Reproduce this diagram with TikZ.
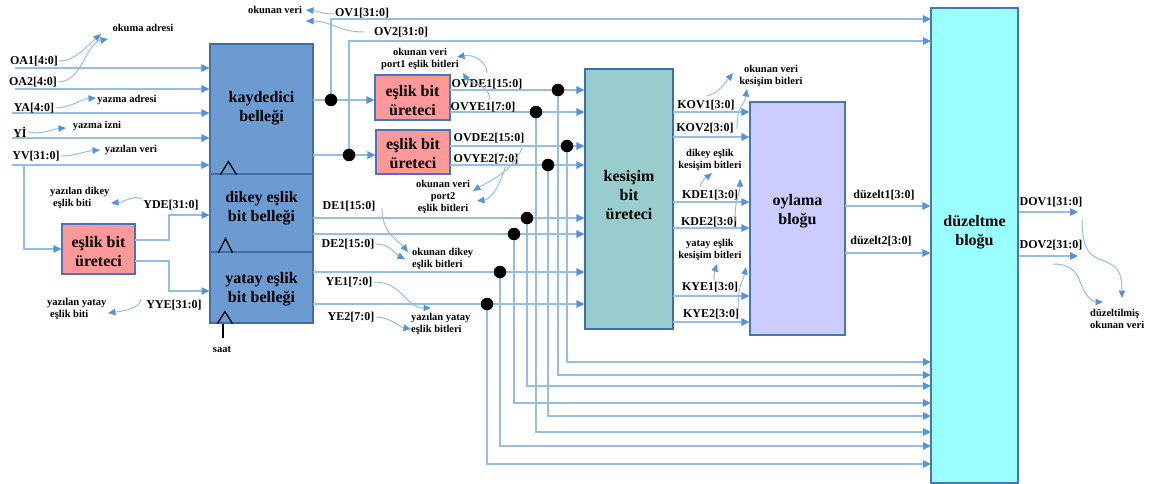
\documentclass[tikz,border=0pt]{standalone}
\usepackage{fontspec}
\setmainfont{Liberation Serif}
\usetikzlibrary{arrows.meta}
\definecolor{wirecol}{RGB}{148,189,232}
\definecolor{tipcol}{RGB}{86,148,214}
\definecolor{regfill}{RGB}{108,155,210}
\definecolor{regedge}{RGB}{62,110,168}
\definecolor{parfill}{RGB}{255,153,153}
\definecolor{boxedge}{RGB}{70,116,192}
\definecolor{intfill}{RGB}{153,204,204}
\definecolor{votfill}{RGB}{204,204,255}
\definecolor{corfill}{RGB}{153,255,255}

\begin{document}
\begin{tikzpicture}[x=1pt,y=-1pt,
  blk/.style={rectangle, inner sep=0pt, line width=1.1pt},
  regbox/.style={blk, draw=regedge, fill=regfill},
  parbox/.style={blk, draw=boxedge, fill=parfill},
  intbox/.style={blk, draw=regedge, fill=intfill},
  votbox/.style={blk, draw=boxedge, fill=votfill},
  corbox/.style={blk, draw=boxedge, fill=corfill},
  boxtxt/.style={align=center, font=\fontsize{16}{19}\selectfont\bfseries, inner sep=0pt},
  bus/.style={font=\fontsize{12}{14}\selectfont\bfseries, inner sep=1pt},
  tag/.style={font=\fontsize{10.5}{12}\selectfont\bfseries, inner sep=0pt},
  wire/.style={draw=wirecol, line width=1.3pt},
  feed/.style={wire, -{Triangle[length=8pt,width=7.5pt,color=tipcol]}},
  ann/.style={draw=wirecol, line width=1pt, -{Triangle[length=7.5pt,width=6.5pt,color=tipcol]}},
  jdot/.style={circle, fill=black, inner sep=0pt, minimum size=12.5pt},
  clockmark/.style={draw=black, line width=1.3pt}
]
\useasboundingbox (0,0) rectangle (1170,484);

% ---------------- blocks ----------------
\node[regbox, minimum width=103pt, minimum height=130pt] (kb) at (261.5,109) {};
\node[regbox, minimum width=103pt, minimum height=78pt]  (dk) at (261.5,213) {};
\node[regbox, minimum width=103pt, minimum height=71pt]  (yt) at (261.5,287.5) {};
\node[parbox, minimum width=73pt, minimum height=50pt]   (pg0) at (98.5,249) {};
\node[parbox, minimum width=75pt, minimum height=45pt]   (pg1) at (412.5,97.5) {};
\node[parbox, minimum width=74pt, minimum height=44pt]   (pg2) at (413,152) {};
\node[intbox, minimum width=88pt, minimum height=260pt]  (ks) at (629,199) {};
\node[votbox, minimum width=95pt, minimum height=233pt]  (ov) at (797.5,218.5) {};
\node[corbox, minimum width=87pt, minimum height=475pt]  (dz) at (974.5,245.5) {};

\node[boxtxt] (kbt)  at (261.5,108) {kaydedici\\belleği};
\node[boxtxt] (dkt)  at (261.5,208) {dikey eşlik\\bit belleği};
\node[boxtxt] (ytt)  at (261.5,289.5) {yatay eşlik\\bit belleği};
\node[boxtxt] (pg0t) at (98.5,252) {eşlik bit\\üreteci};
\node[boxtxt] (pg1t) at (412.5,101) {eşlik bit\\üreteci};
\node[boxtxt] (pg2t) at (413,154) {eşlik bit\\üreteci};
\node[boxtxt] (kst)  at (629,195) {kesişim\\bit\\üreteci};
\node[boxtxt] (ovt)  at (797.5,211) {oylama\\bloğu};
\node[boxtxt] (dzt)  at (974.5,232) {düzeltme\\bloğu};

% clock marks
\draw[clockmark] (kb.south west) ++(11,0) -- ++(8,-13) -- ++(8,13);
\draw[clockmark] (dk.south west) ++(9,0) -- ++(7,-14) -- ++(7,14);
\draw[clockmark] (yt.south west) ++(8,0) -- ++(7.5,-12) -- ++(7.5,12);
\coordinate (clk) at (223,338);
\draw[draw=black, line width=1.1pt] (clk) -- (clk |- yt.south);

% ---------------- inputs ----------------
\coordinate (inOA1) at (15,68);
\coordinate (inOA2) at (15,89);
\coordinate (inYA)  at (12,113);
\coordinate (inYI)  at (12,138);
\coordinate (inYV)  at (12,165);
\draw[feed] (inOA1) -- (inOA1 -| kb.west);
\draw[feed] (inOA2) -- (inOA2 -| kb.west);
\draw[feed] (inYA)  -- (inYA -| kb.west);
\draw[feed] (inYI)  -- (inYI -| kb.west);
\draw[feed] (inYV)  -- (inYV -| kb.west);
\coordinate (brYV) at (24,165);
\draw[feed] (brYV) |- (pg0.west);

\coordinate (pg0a) at (135,240);
\coordinate (pg0b) at (135,261);
\coordinate (dkin) at (209.5,215);
\coordinate (ytin) at (209.5,291);
\draw[feed] (pg0a) -- ++(34,0) |- (dkin);
\draw[feed] (pg0b) -- ++(34,0) |- (ytin);

% ---------------- register file outputs ----------------
\coordinate (kbo1) at (313,100);
\coordinate (kbo2) at (313,155);
\draw[feed] (kbo1) -- (kbo1 -| pg1.west);
\draw[feed] (kbo2) -- (kbo2 -| pg2.west);
\coordinate (jOV1) at (331,100);
\coordinate (jOV2) at (349,155);
\coordinate (eOV1) at (931,19);
\coordinate (eOV2) at (931,41);
\draw[feed] (jOV1) |- (eOV1);
\draw[feed] (jOV2) |- (eOV2);

% ---------------- parity buses into the syndrome block ----------------
\coordinate (p1a) at (450,90);
\coordinate (p1b) at (450,112);
\coordinate (p2a) at (450,146);
\coordinate (p2b) at (450,165);
\coordinate (dka) at (313,218);
\coordinate (dkb) at (313,234);
\coordinate (yta) at (313,272);
\coordinate (ytb) at (313,304);
\foreach \s in {p1a,p1b,p2a,p2b,dka,dkb,yta,ytb}
  \draw[feed] (\s) -- (\s -| ks.west);

% taps down to the correction block
\coordinate (jOVDE1) at (558,90);   \coordinate (eOVDE1) at (931,375);
\coordinate (jOVYE1) at (536,112);  \coordinate (eOVYE1) at (931,432);
\coordinate (jOVDE2) at (567,146);  \coordinate (eOVDE2) at (931,362);
\coordinate (jOVYE2) at (548,165);  \coordinate (eOVYE2) at (931,416);
\coordinate (jDE1)   at (527,218);  \coordinate (eDE1)   at (931,386);
\coordinate (jDE2)   at (514,234);  \coordinate (eDE2)   at (931,403);
\coordinate (jYE1)   at (500,272);  \coordinate (eYE1)   at (931,446);
\coordinate (jYE2)   at (487,304);  \coordinate (eYE2)   at (931,464);
\foreach \n in {OVDE1,OVYE1,OVDE2,OVYE2,DE1,DE2,YE1,YE2}
  \draw[feed] (j\n) |- (e\n);

% ---------------- syndrome -> vote -> correction ----------------
\coordinate (ko1) at (673,112);
\coordinate (ko2) at (673,137);
\coordinate (ko3) at (673,202);
\coordinate (ko4) at (673,228);
\coordinate (ko5) at (673,296);
\coordinate (ko6) at (673,322);
\foreach \s in {ko1,ko2,ko3,ko4,ko5,ko6}
  \draw[feed] (\s) -- (\s -| ov.west);
\coordinate (vo1) at (845,206);
\coordinate (vo2) at (845,253);
\draw[feed] (vo1) -- (vo1 -| dz.west);
\draw[feed] (vo2) -- (vo2 -| dz.west);
\coordinate (dzo1) at (1019,212);  \coordinate (dzx1) at (1078,212);
\coordinate (dzo2) at (1019,256);  \coordinate (dzx2) at (1078,256);
\draw[feed] (dzo1) -- (dzx1);
\draw[feed] (dzo2) -- (dzx2);

% junction dots
\foreach \n in {OV1,OV2,OVDE1,OVYE1,OVDE2,OVYE2,DE1,DE2,YE1,YE2}
  \node[jdot] (d\n) at (j\n) {};

% ---------------- bus labels ----------------
\node[bus] (lOA1) at (34,61) {OA1[4:0]};
\node[bus] (lOA2) at (33,82) {OA2[4:0]};
\node[bus] (lYA)  at (34,108) {YA[4:0]};
\node[bus] (lYI)  at (20,132) {Yİ};
\node[bus] (lYV)  at (36,156) {YV[31:0]};
\node[bus] (lYDE) at (171,205) {YDE[31:0]};
\node[bus] (lYYE) at (174,305) {YYE[31:0]};
\node[bus] (lOV1) at (362,13) {OV1[31:0]};
\node[bus] (lOV2) at (401,32) {OV2[31:0]};
\node[bus] (lOVDE1) at (487,84) {OVDE1[15:0]};
\node[bus] (lOVYE1) at (483,107) {OVYE1[7:0]};
\node[bus] (lOVDE2) at (489,138) {OVDE2[15:0]};
\node[bus] (lOVYE2) at (486,159) {OVYE2[7:0]};
\node[bus] (lDE1) at (349,206) {DE1[15:0]};
\node[bus] (lDE2) at (348,244) {DE2[15:0]};
\node[bus] (lYE1) at (349,282) {YE1[7:0]};
\node[bus] (lYE2) at (351,317) {YE2[7:0]};
\node[bus] (lKOV1) at (706,105) {KOV1[3:0]};
\node[bus] (lKOV2) at (705,128) {KOV2[3:0]};
\node[bus] (lKDE1) at (710,195) {KDE1[3:0]};
\node[bus] (lKDE2) at (709,222) {KDE2[3:0]};
\node[bus] (lKYE1) at (710,287) {KYE1[3:0]};
\node[bus] (lKYE2) at (711,314) {KYE2[3:0]};
\node[bus] (lDz1) at (884,195) {düzelt1[3:0]};
\node[bus] (lDz2) at (881,241) {düzelt2[3:0]};
\node[bus] (lDOV1) at (1051,202) {DOV1[31:0]};
\node[bus] (lDOV2) at (1051,245) {DOV2[31:0]};

% ---------------- signal descriptions ----------------
\node[tag] (tOkA) at (143,28) {okuma adresi};
\node[tag] (tYzA) at (127,100) {yazma adresi};
\node[tag] (tYzI) at (97,126) {yazma izni};
\node[tag] (tYzV) at (131,150) {yazılan veri};
\node[tag, align=left, anchor=west] (tYDE) at (50,198) {yazılan dikey\\\hspace*{3pt}eşlik biti};
\node[tag, align=left, anchor=west] (tYYE) at (47,309) {yazılan yatay\\\hspace*{3pt}eşlik biti};
\node[tag] (tSaat) at (222,350) {saat};
\node[tag] (tOkV) at (275,10) {okunan veri};
\node[tag, align=center] (tP1) at (420,59) {okunan veri\\port1 eşlik bitleri};
\node[tag, align=center] (tP2) at (443,196.5) {okunan veri\\port2\\eşlik bitleri};
\node[tag, align=left, anchor=west] (tOkD) at (412,259) {okunan dikey\\eşlik bitleri};
\node[tag, align=left, anchor=west] (tYzY) at (411,324) {yazılan yatay\\eşlik bitleri};
\node[tag, align=center] (tKOV) at (771,76) {okunan veri\\kesişim bitleri};
\node[tag, align=center] (tKDE) at (710,160) {dikey eşlik\\kesişim bitleri};
\node[tag, align=center] (tKYE) at (710,250) {yatay eşlik\\kesişim bitleri};
\node[tag, align=left, anchor=west] (tDOV) at (1090,319) {düzeltilmiş\\okunan veri};

% ---------------- description pointers ----------------
\coordinate (aOA1) at (101,34);
\coordinate (aOA2) at (108,39);
\coordinate (aYA)  at (96,98);
\coordinate (aYI)  at (66,128);
\coordinate (aYV)  at (100,150);
\draw[ann] (lOA1.east) .. controls +(16,0) and +(-14,12) .. (aOA1);
\draw[ann] (lOA2.east) .. controls +(24,0) and +(-22,4) .. (aOA2);
\draw[ann] (lYA.east)  .. controls +(14,0) and +(-14,1) .. (aYA);
\draw[ann] (lYI.east)  .. controls +(14,3) and +(-14,1) .. (aYI);
\draw[ann] (lYV.east)  .. controls +(14,0) and +(-14,1) .. (aYV);

\coordinate (aYDE) at (111,203);
\coordinate (aYYE) at (108,313);
\coordinate (sYYE) at (141,299);
\draw[ann] (lYDE.north west) .. controls +(-10,-4) and +(14,-1) .. (aYDE);
\draw[ann] (sYYE) .. controls +(0,9) and +(16,-2) .. (aYYE);

\coordinate (sOV1) at (334,14);
\coordinate (sOV2) at (364,32);
\coordinate (aOV1) at (306,10);
\coordinate (aOV2) at (306,21);
\draw[ann] (sOV1) .. controls +(-12,0) and +(12,1) .. (aOV1);
\draw[ann] (sOV2) .. controls +(-25,0) and +(25,0) .. (aOV2);

\coordinate (sP1a) at (487,73);
\coordinate (sP1b) at (490,100);
\coordinate (aP1a) at (457,57);
\coordinate (aP1b) at (463,73);
\draw[ann] (sP1a) .. controls +(0,-12) and +(16,-3) .. (aP1a);
\draw[ann] (sP1b) .. controls +(0,-16) and +(6,10) .. (aP1b);

\coordinate (sP2a) at (522,148);
\coordinate (sP2b) at (505,167);
\coordinate (aP2a) at (473,191);
\coordinate (aP2b) at (477,201);
\draw[ann] (sP2a) .. controls +(-10,25) and +(16,-10) .. (aP2a);
\draw[ann] (sP2b) .. controls +(-4,16) and +(15,-2) .. (aP2b);

\coordinate (sDE1) at (382,208);
\coordinate (aDE1) at (408,252);
\coordinate (aDE2) at (405,259);
\draw[ann] (sDE1) .. controls +(0,26) and +(-10,-12) .. (aDE1);
\draw[ann] (lDE2.east) .. controls +(15,0) and +(-10,-5) .. (aDE2);

\coordinate (aYE1) at (431,308);
\coordinate (aYE2) at (411,329);
\draw[ann] (lYE1.east) .. controls +(30,0) and +(-26,0) .. (aYE1);
\draw[ann] (lYE2.east) .. controls +(15,0) and +(-12,-2) .. (aYE2);

\coordinate (sKOV1) at (707,96);
\coordinate (sKOV2) at (737,129);
\coordinate (aKOV1) at (733,73);
\coordinate (aKOV2) at (747,89);
\draw[ann] (sKOV1) .. controls +(12,-3) and +(-8,10) .. (aKOV1);
\draw[ann] (sKOV2) .. controls +(0,-25) and +(-3,18) .. (aKOV2);

\coordinate (sKDE1) at (700,187);
\coordinate (sKDE2) at (735,221);
\coordinate (aKDE1) at (712,173);
\coordinate (aKDE2) at (740,179);
\draw[ann] (sKDE1) .. controls +(2,-8) and +(-6,5) .. (aKDE1);
\draw[ann] (sKDE2) .. controls +(0,-25) and +(0,15) .. (aKDE2);

\coordinate (sKYE1) at (714,280);
\coordinate (sKYE2) at (738,309);
\coordinate (aKYE1) at (717,264);
\coordinate (aKYE2) at (746,267);
\draw[ann] (sKYE1) .. controls +(0,-8) and +(-2,6) .. (aKYE1);
\draw[ann] (sKYE2) .. controls +(0,-25) and +(-3,15) .. (aKYE2);

\coordinate (sDOV1) at (1082,219);
\coordinate (mDOV1) at (1104,261);
\coordinate (aDOV1) at (1122,298);
\coordinate (sDOV2) at (1053,264);
\coordinate (mDOV2) at (1081,284);
\coordinate (aDOV2) at (1103,302);
\draw[ann] (sDOV1) .. controls +(0,32) and +(-14,-5) .. (mDOV1) .. controls +(14,5) and +(0,-25) .. (aDOV1);
\draw[ann] (sDOV2) .. controls +(20,0) and +(-4,-10) .. (mDOV2) .. controls +(4,10) and +(-12,0) .. (aDOV2);
\end{tikzpicture}
\end{document}
